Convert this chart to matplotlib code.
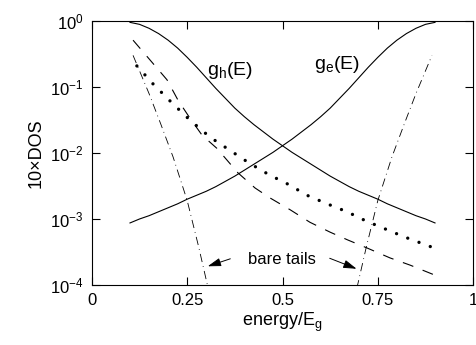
import numpy as np
import matplotlib
matplotlib.use('Agg')
import matplotlib.pyplot as plt

plt.rcParams['font.family'] = 'Liberation Sans'
plt.rcParams['mathtext.fontset'] = 'custom'
plt.rcParams['mathtext.rm'] = 'Liberation Sans'
plt.rcParams['mathtext.it'] = 'Liberation Sans'

# curves, y given as log10(10 x DOS)
x_g = [0.100, 0.125, 0.150, 0.175, 0.200, 0.225, 0.250, 0.275, 0.300,
       0.325, 0.350, 0.375, 0.400, 0.425, 0.450, 0.475, 0.500, 0.525,
       0.550, 0.575, 0.600, 0.625, 0.650, 0.675, 0.700, 0.725, 0.750,
       0.775, 0.800, 0.825, 0.850, 0.875, 0.900]
gh_log = [-0.02, -0.05, -0.11, -0.19, -0.29, -0.41, -0.55, -0.70, -0.86,
          -1.02, -1.17, -1.32, -1.45, -1.57, -1.68, -1.79, -1.89, -1.99,
          -2.08, -2.17, -2.26, -2.35, -2.43, -2.51, -2.58, -2.64, -2.70,
          -2.77, -2.83, -2.89, -2.95, -3.00, -3.06]
ge_log = [-3.06, -3.00, -2.95, -2.89, -2.83, -2.77, -2.70, -2.64, -2.58,
          -2.51, -2.43, -2.35, -2.26, -2.17, -2.08, -1.99, -1.89, -1.79,
          -1.68, -1.57, -1.45, -1.32, -1.17, -1.02, -0.86, -0.70, -0.55,
          -0.41, -0.29, -0.19, -0.11, -0.05, -0.02]

x_dash = [0.108, 0.157, 0.197, 0.226, 0.257, 0.289, 0.328, 0.383, 0.428,
          0.467, 0.520, 0.572, 0.625, 0.672, 0.722, 0.782, 0.835, 0.895]
dash_log = [-0.29, -0.62, -0.89, -1.20, -1.47, -1.73, -1.93, -2.30, -2.53,
            -2.68, -2.86, -3.05, -3.20, -3.32, -3.44, -3.59, -3.70, -3.84]

x_dot = [0.118, 0.160, 0.210, 0.257, 0.310, 0.357, 0.412, 0.465, 0.517,
         0.564, 0.617, 0.669, 0.719, 0.769, 0.819, 0.898]
dot_log = [-0.68, -0.95, -1.24, -1.50, -1.76, -1.94, -2.15, -2.33, -2.48,
           -2.64, -2.77, -2.89, -3.03, -3.15, -3.27, -3.44]

x_tail_l = [0.108, 0.15, 0.18, 0.213, 0.25, 0.28, 0.305]
tail_l_log = [-0.52, -1.10, -1.55, -2.06, -2.72, -3.42, -4.05]
x_tail_r = [0.695, 0.72, 0.75, 0.787, 0.82, 0.85, 0.892]
tail_r_log = [-4.05, -3.42, -2.72, -2.06, -1.55, -1.10, -0.52]

xticks = [0, 0.25, 0.5, 0.75, 1]
xticklabels = ['0', '0.25', '0.5', '0.75', '1']
yticks = [1e-4, 1e-3, 1e-2, 1e-1, 1e0]
yticklabels = [r'$10^{-4}$', r'$10^{-3}$', r'$10^{-2}$', r'$10^{-1}$', r'$10^{0}$']

fig = plt.figure(figsize=(4.76, 3.45), dpi=100)
ax = fig.add_axes([0.193, 0.174, 0.801, 0.765])

ax.plot(x_g, 10 ** np.array(gh_log), color='black', lw=0.8)
ax.plot(x_g, 10 ** np.array(ge_log), color='black', lw=0.8)
ax.plot(x_dash, 10 ** np.array(dash_log), color='black', lw=0.8,
        linestyle=(0, (10, 9)))
ax.plot(x_dot, 10 ** np.array(dot_log), color='black', lw=2.4,
        linestyle=(0, (0.01, 3.6)), dash_capstyle='round')
ax.plot(x_tail_l, 10 ** np.array(tail_l_log), color='black', lw=0.6,
        linestyle=(0, (10, 5, 1, 5)))
ax.plot(x_tail_r, 10 ** np.array(tail_r_log), color='black', lw=0.6,
        linestyle=(0, (10, 5, 1, 5)))

ax.set_yscale('log')
ax.set_xlim(0, 1)
ax.set_ylim(1e-4, 1)
ax.set_xticks(xticks)
ax.set_xticklabels(xticklabels)
ax.set_yticks(yticks)
ax.set_yticklabels(yticklabels)
ax.minorticks_off()
ax.tick_params(direction='in', length=6, width=0.8, labelsize=12,
               top=True, right=True, pad=6)
for s in ax.spines.values():
    s.set_linewidth(0.8)

ax.set_xlabel('energy/E$_\\mathregular{g}$', fontsize=13, labelpad=2)
ax.set_ylabel('10\u00d7DOS', fontsize=13, labelpad=4)

ax.text(0.362, 0.18, 'g$_\\mathregular{h}$(E)', fontsize=14, ha='center', va='center')
ax.text(0.643, 0.22, 'g$_\\mathregular{e}$(E)', fontsize=14, ha='center', va='center')

ax.text(0.499, 2.47e-4, 'bare tails', fontsize=12, ha='center', va='center')
arrow = dict(arrowstyle='-|>,head_length=0.8,head_width=0.25', color='black', lw=0.7)
ax.annotate('', xy=(0.297, 10 ** -3.73), xytext=(0.370, 10 ** -3.59), arrowprops=arrow)
ax.annotate('', xy=(0.701, 10 ** -3.77), xytext=(0.617, 10 ** -3.58), arrowprops=arrow)

fig.savefig('out.png', dpi=100)
